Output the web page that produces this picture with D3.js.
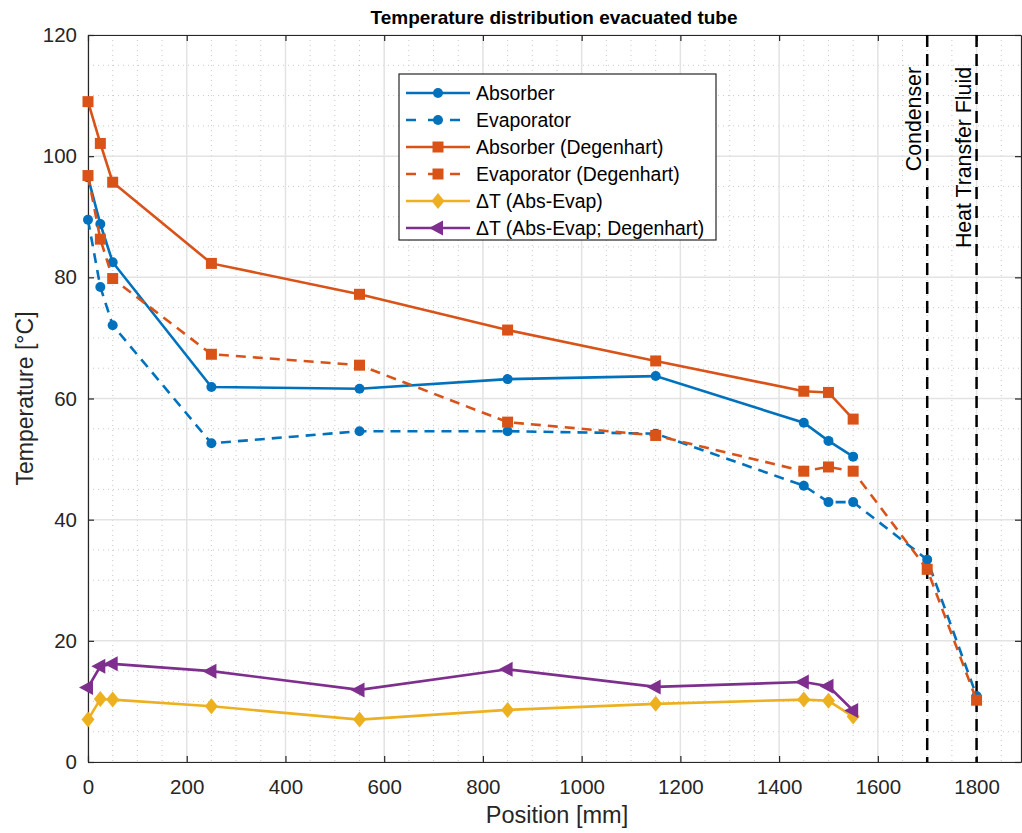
<!DOCTYPE html>
<html>
<head>
<meta charset="utf-8">
<script src="https://cdn.jsdelivr.net/npm/d3@7"></script>
<style>
  body { margin: 0; background: #fff; }
  svg { font-family: "Liberation Sans", Arial, sans-serif; }
</style>
</head>
<body>
<svg id="chart" width="1022" height="833"></svg>
<script>
// --- data ---
const positions = [0, 25, 50, 250, 550, 850, 1150, 1450, 1500, 1550, 1700, 1800];
const absorber = [96.5, 88.8, 82.5, 61.9, 61.6, 63.2, 63.7, 56.0, 53.0, 50.4];
const evaporator = [89.5, 78.4, 72.1, 52.6, 54.6, 54.6, 54.2, 45.6, 42.9, 42.9, 33.4, 10.9];
const absorberDeg = [109.0, 102.1, 95.7, 82.3, 77.2, 71.3, 66.2, 61.2, 61.0, 56.6];
const evaporatorDeg = [96.8, 86.3, 79.8, 67.3, 65.5, 56.1, 53.9, 48.0, 48.7, 48.0, 31.8, 10.2];
const dtAbsEvap = [7.0, 10.4, 10.3, 9.2, 7.0, 8.6, 9.6, 10.3, 10.1, 7.5];
const dtAbsEvapDeg = [12.3, 15.8, 16.2, 15.0, 11.9, 15.3, 12.4, 13.2, 12.5, 8.5];
const xTicks = [0, 200, 400, 600, 800, 1000, 1200, 1400, 1600, 1800];
const yTicks = [0, 20, 40, 60, 80, 100, 120];
const markerLines = [{ x: 1700, label: "Condenser" }, { x: 1800, label: "Heat Transfer Fluid" }];

const series = [
  { name: "Absorber", values: absorber, color: "#0072BD", dash: null, marker: "circle" },
  { name: "Evaporator", values: evaporator, color: "#0072BD", dash: "10,7", marker: "circle" },
  { name: "Absorber (Degenhart)", values: absorberDeg, color: "#D95319", dash: null, marker: "square" },
  { name: "Evaporator (Degenhart)", values: evaporatorDeg, color: "#D95319", dash: "10,7", marker: "square" },
  { name: "\u0394T (Abs-Evap)", values: dtAbsEvap, color: "#EDB120", dash: null, marker: "diamond" },
  { name: "\u0394T (Abs-Evap; Degenhart)", values: dtAbsEvapDeg, color: "#7E2F8E", dash: null, marker: "triangleLeft" }
];

// --- layout ---
const svg = d3.select("#chart");
const pLeft = 88, pRight = 1021, pTop = 35, pBottom = 762;
const x = d3.scaleLinear().domain([0, 1890]).range([pLeft, pRight]);
const y = d3.scaleLinear().domain([0, 120]).range([pBottom, pTop]);
const axisColor = "#262626";

// minor grid
const gMinor = svg.append("g");
d3.range(50, 1890, 50).filter(v => v % 200 !== 0).forEach(v => {
  gMinor.append("line").attr("x1", x(v)).attr("x2", x(v)).attr("y1", pTop).attr("y2", pBottom)
    .attr("stroke", "#c8c8c8").attr("stroke-width", 1).attr("stroke-dasharray", "1,4");
});
d3.range(5, 120, 5).filter(v => v % 20 !== 0).forEach(v => {
  gMinor.append("line").attr("x1", pLeft).attr("x2", pRight).attr("y1", y(v)).attr("y2", y(v))
    .attr("stroke", "#c8c8c8").attr("stroke-width", 1).attr("stroke-dasharray", "1,4");
});

// major grid
const gMajor = svg.append("g");
xTicks.forEach(v => {
  gMajor.append("line").attr("x1", x(v)).attr("x2", x(v)).attr("y1", pTop).attr("y2", pBottom)
    .attr("stroke", "#e3e3e3").attr("stroke-width", 1.5);
});
yTicks.forEach(v => {
  gMajor.append("line").attr("x1", pLeft).attr("x2", pRight).attr("y1", y(v)).attr("y2", y(v))
    .attr("stroke", "#e3e3e3").attr("stroke-width", 1.5);
});

// axes
const fmt = d3.format("d");
const xAxis = svg.append("g").attr("transform", `translate(0,${pBottom})`)
  .call(d3.axisBottom(x).tickValues(xTicks).tickFormat(fmt).tickSizeInner(-6).tickSizeOuter(0).tickPadding(17));
const xAxisTop = svg.append("g").attr("transform", `translate(0,${pTop})`)
  .call(d3.axisTop(x).tickValues(xTicks).tickSizeInner(-6).tickSizeOuter(0).tickFormat(""));
const yAxis = svg.append("g").attr("transform", `translate(${pLeft},0)`)
  .call(d3.axisLeft(y).tickValues(yTicks).tickFormat(fmt).tickSizeInner(-6).tickSizeOuter(0).tickPadding(11));
const yAxisRight = svg.append("g").attr("transform", `translate(${pRight},0)`)
  .call(d3.axisRight(y).tickValues(yTicks).tickSizeInner(-6).tickSizeOuter(0).tickFormat(""));
[xAxis, xAxisTop, yAxis, yAxisRight].forEach(a => {
  a.selectAll("path.domain").attr("stroke", axisColor).attr("stroke-width", 1.2);
  a.selectAll(".tick line").attr("stroke", axisColor).attr("stroke-width", 1.2);
  a.selectAll(".tick text").attr("fill", axisColor).attr("font-size", 20.5)
    .attr("font-family", "Liberation Sans, Arial, sans-serif");
});

// vertical reference lines
markerLines.forEach(m => {
  svg.append("line").attr("x1", x(m.x)).attr("x2", x(m.x)).attr("y1", pTop).attr("y2", pBottom)
    .attr("stroke", "#000").attr("stroke-width", 2.5).attr("stroke-dasharray", "12,7");
  svg.append("text")
    .attr("transform", `translate(${x(m.x) - 6},${pTop + 32}) rotate(-90)`)
    .attr("text-anchor", "end")
    .attr("font-size", 21.3)
    .attr("fill", "#000")
    .text(m.label);
});

// markers
function drawMarker(g, type, cx, cy, color) {
  if (type === "circle") {
    g.append("circle").attr("cx", cx).attr("cy", cy).attr("r", 5).attr("fill", color);
  } else if (type === "square") {
    g.append("rect").attr("x", cx - 5.5).attr("y", cy - 5.5).attr("width", 11).attr("height", 11).attr("fill", color);
  } else if (type === "diamond") {
    g.append("path").attr("d", `M${cx},${cy - 8}L${cx + 6.5},${cy}L${cx},${cy + 8}L${cx - 6.5},${cy}Z`).attr("fill", color);
  } else if (type === "triangleLeft") {
    g.append("path").attr("d", `M${cx - 9},${cy}L${cx + 5},${cy - 7.5}L${cx + 5},${cy + 7.5}Z`).attr("fill", color);
  }
}

// series
const line = d3.line().x(d => x(d[0])).y(d => y(d[1]));
series.forEach(s => {
  const pts = s.values.map((v, i) => [positions[i], v]);
  const g = svg.append("g");
  g.append("path").datum(pts).attr("d", line)
    .attr("fill", "none").attr("stroke", s.color).attr("stroke-width", 2.6)
    .attr("stroke-dasharray", s.dash);
  pts.forEach(p => drawMarker(g, s.marker, x(p[0]), y(p[1]), s.color));
});

// legend
const lg = svg.append("g").attr("transform", "translate(399,74)");
lg.append("rect").attr("x", 0).attr("y", 0).attr("width", 317).attr("height", 166)
  .attr("fill", "#fff").attr("stroke", axisColor).attr("stroke-width", 1.2);
series.forEach((s, i) => {
  const ry = 19 + i * 27;
  lg.append("line").attr("x1", 7).attr("x2", 71).attr("y1", ry).attr("y2", ry)
    .attr("stroke", s.color).attr("stroke-width", 2.6)
    .attr("stroke-dasharray", s.dash ? "10,12" : null);
  drawMarker(lg, s.marker, 39, ry, s.color);
  lg.append("text").attr("x", 77).attr("y", ry + 7).attr("font-size", 19.4).attr("fill", "#000").text(s.name);
});

// labels
svg.append("text").attr("x", 554).attr("y", 24).attr("text-anchor", "middle")
  .attr("font-size", 19).attr("font-weight", "bold").attr("fill", "#000")
  .text("Temperature distribution evacuated tube");
svg.append("text").attr("x", 557).attr("y", 823).attr("text-anchor", "middle")
  .attr("font-size", 23.5).attr("fill", axisColor).text("Position [mm]");
svg.append("text").attr("transform", `translate(33,${(pTop + pBottom) / 2}) rotate(-90)`)
  .attr("text-anchor", "middle").attr("font-size", 23).attr("fill", axisColor)
  .text("Temperature [\u00B0C]");
</script>
</body>
</html>
